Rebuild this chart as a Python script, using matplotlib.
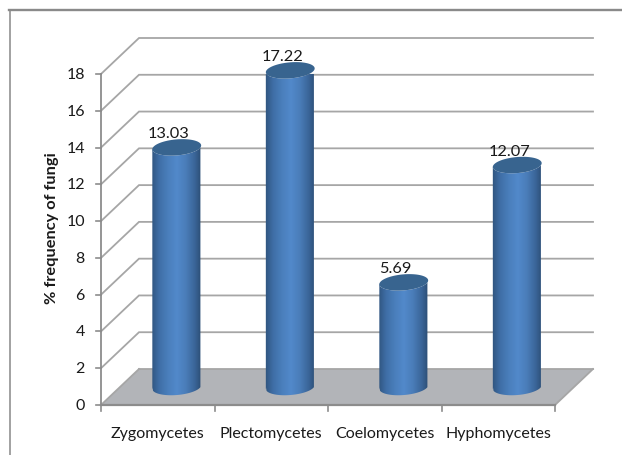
# -*- coding: utf-8 -*-
# 3D-look cylinder chart: % frequency of fungi per group.
import numpy as np
import matplotlib
matplotlib.use("Agg")
import matplotlib.pyplot as plt
from matplotlib.colors import LinearSegmentedColormap
from matplotlib.lines import Line2D
from matplotlib.patches import Polygon

categories = ["Zygomycetes", "Plectomycetes", "Coelomycetes", "Hyphomycetes"]
values = [13.03, 17.22, 5.69, 12.07]
y_ticks = [0, 2, 4, 6, 8, 10, 12, 14, 16, 18]

W, H = 622, 456
X0, X1 = 101, 555      # front edge of the floor, px
Y0, Y18 = 406, 75      # value 0 and value 18 on the front axis, px
DEPTH_X, DEPTH_Y = 38, 36

C_GRID = "#a6a6a6"
C_AXIS = "#8c8c8c"
C_FLOOR = "#b2b4b8"
C_TOP = "#38648f"
C_TEXT = "#1a1a1a"
FONT = "Lato"

bar_cmap = LinearSegmentedColormap.from_list(
    "cyl", ["#2d5078", "#3f6ea6", "#4a7fbc", "#5289cb", "#4a7db9", "#3a6598", "#264466"])

fig = plt.figure(figsize=(W / 100, H / 100), dpi=100, facecolor="white")
ax = fig.add_axes([X0 / W, 1 - Y0 / H, (X1 - X0) / W, (Y0 - Y18) / H])
ax.set_xlim(0, len(categories))
ax.set_ylim(0, y_ticks[-1])
ax.axis("off")

sx = (X1 - X0) / len(categories)   # px per category
sy = (Y0 - Y18) / y_ticks[-1]      # px per value unit
dx = DEPTH_X / sx
dy = DEPTH_Y / sy
n = len(categories)

# chart area frame: top and left lines, running off the image
fig.add_artist(Line2D([9.5 / W, 9.5 / W], [0, 1 - 11 / H], color="#9a9a9a", lw=1.3,
                      transform=fig.transFigure))
fig.add_artist(Line2D([9 / W, 1], [1 - 11 / H, 1 - 11 / H], color="#8a8a8a", lw=1.7,
                      transform=fig.transFigure))

# floor
ax.add_patch(Polygon([(0, 0), (n, 0), (n + dx, dy), (dx, dy)], closed=True,
                     facecolor=C_FLOOR, edgecolor="none", zorder=1, clip_on=False))

# grid on side wall and back wall
for v in y_ticks:
    if v > 0:
        ax.plot([0, dx, n + dx], [v, v + dy, v + dy], color=C_GRID, lw=1.3, zorder=1,
                clip_on=False, solid_joinstyle="miter")
ax.plot([dx, n + dx], [dy, dy], color=C_GRID, lw=1.3, zorder=1, clip_on=False)
ax.plot([0, dx], [0, dy], color=C_GRID, lw=1.3, zorder=1, clip_on=False)
ax.plot([n, n + dx], [0, dy], color=C_GRID, lw=1.3, zorder=1, clip_on=False)

# front axes and ticks
ax.plot([0, 0], [0, y_ticks[-1]], color=C_AXIS, lw=1.3, zorder=2, clip_on=False)
ax.plot([0, n], [0, 0], color=C_AXIS, lw=1.6, zorder=2, clip_on=False)
for v in y_ticks:
    ax.plot([-5 / sx, 0], [v, v], color=C_AXIS, lw=1.2, zorder=2, clip_on=False)
    ax.text(-16 / sx, v, str(v), ha="right", va="center", fontsize=11.5, family=FONT,
            color=C_TEXT, clip_on=False)
for i in range(n + 1):
    ax.plot([i, i], [0, -6 / sy], color=C_AXIS, lw=1.2, zorder=2, clip_on=False)

# cylinders
t = np.linspace(0, 2 * np.pi, 181)
rx, ry, tilt = 24.5, 8, np.radians(5)
ex = (rx * np.cos(t) * np.cos(tilt) - ry * np.sin(t) * np.sin(tilt)) / sx
ey = (rx * np.cos(t) * np.sin(tilt) + ry * np.sin(t) * np.cos(tilt)) / sy
half = rx * np.cos(tilt) / sx
grad = np.linspace(0, 1, 128).reshape(1, -1)
for i, (name, val) in enumerate(zip(categories, values)):
    cx = i + 0.5 + dx / 2
    base = dy / 2
    top = base + val
    front = ey < 0
    order = np.argsort(ex[front])
    lower = np.column_stack([cx + ex[front][order], base + ey[front][order]])
    upper = np.column_stack([cx + ex[front][order][::-1], top + ey[front][order][::-1]])
    body = Polygon(np.vstack([lower, upper]), closed=True, facecolor="none", edgecolor="none",
                   transform=ax.transData)
    ax.add_patch(body)
    im = ax.imshow(grad, cmap=bar_cmap, aspect="auto", zorder=3, interpolation="bilinear",
                   extent=[cx - half - 0.02, cx + half + 0.02, base - 1.5, top + 1.5])
    im.set_clip_path(body)
    ax.fill(cx + ex, top + ey, color=C_TOP, lw=0, zorder=4, clip_on=False)
    ax.text(cx - 8 / sx, top + 14 / sy, f"{val:.2f}", ha="center", va="center",
            fontsize=11.8, family=FONT, color=C_TEXT, zorder=5, clip_on=False)
    ax.text(i + 0.5, -28 / sy, name, ha="center", va="center", fontsize=11.5, family=FONT,
            color=C_TEXT, clip_on=False)
ax.set_xlim(0, n)
ax.set_ylim(0, y_ticks[-1])

fig.text(52 / W, 1 - 228 / H, "% frequency of fungi", rotation=90, ha="center", va="center",
         fontsize=11.8, fontweight="bold", family=FONT, color=C_TEXT)

fig.savefig("out.png", dpi=100)
